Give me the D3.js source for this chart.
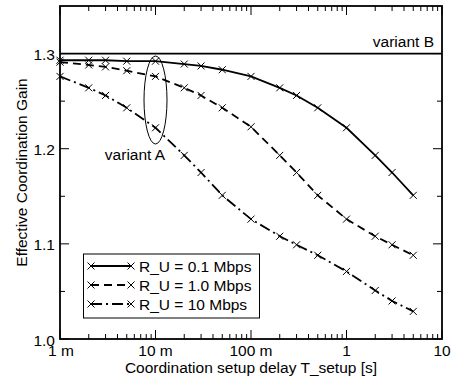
<!DOCTYPE html>
<html>
<head>
<meta charset="utf-8">
<script src="https://cdn.jsdelivr.net/npm/d3@7"></script>
<style>
  html, body { margin: 0; padding: 0; background: #fff; }
  svg { display: block; }
  text { font-family: "Liberation Sans", Arial, Helvetica, sans-serif; fill: #000; }
</style>
</head>
<body>
<svg id="chart" width="471" height="379"></svg>
<script>
// ---- data ----
const delays = [0.001, 0.002, 0.003, 0.005, 0.01, 0.02, 0.03, 0.05, 0.1, 0.2, 0.3, 0.5, 1, 2, 3, 5];
const gain01 = [1.293, 1.293, 1.293, 1.292, 1.292, 1.289, 1.287, 1.283, 1.276, 1.264, 1.256, 1.243, 1.222, 1.193, 1.175, 1.151];
const gain10 = [1.291, 1.288, 1.286, 1.282, 1.276, 1.264, 1.256, 1.243, 1.223, 1.193, 1.175, 1.151, 1.126, 1.108, 1.099, 1.088];
const gain100 = [1.276, 1.264, 1.256, 1.243, 1.222, 1.193, 1.175, 1.151, 1.126, 1.108, 1.099, 1.088, 1.071, 1.051, 1.040, 1.029];
const variantB = 1.3;
const seriesNames = ["R_U = 0.1 Mbps", "R_U = 1.0 Mbps", "R_U = 10 Mbps"];
const xTickValues = [0.001, 0.01, 0.1, 1, 10];
const xTickLabels = ["1 m", "10 m", "100 m", "1", "10"];
const yTickValues = [1.0, 1.1, 1.2, 1.3];
const yTickLabels = ["1.0", "1.1", "1.2", "1.3"];

// ---- layout ----
const L = 60, R = 442, T = 6, B = 339;
const FS = 15.5;
const svg = d3.select("#chart");
const x = d3.scaleLog().domain([0.001, 10]).range([L, R]);
const y = d3.scaleLinear().domain([1.0, 1.35]).range([B, T]);

// minor ticks
const minorX = [];
for (let e = -3; e < 1; e++) for (let m = 2; m <= 9; m++) minorX.push(m * Math.pow(10, e));
const minorY = [1.05, 1.15, 1.25];

const g = svg.append("g");

// ticks (inward on all four sides)
const tk = g.append("g").attr("stroke", "#000").attr("stroke-width", 1);
xTickValues.forEach(v => {
  tk.append("line").attr("x1", x(v)).attr("x2", x(v)).attr("y1", B).attr("y2", B - 9);
  tk.append("line").attr("x1", x(v)).attr("x2", x(v)).attr("y1", T).attr("y2", T + 9);
});
minorX.forEach(v => {
  tk.append("line").attr("x1", x(v)).attr("x2", x(v)).attr("y1", B).attr("y2", B - 5);
  tk.append("line").attr("x1", x(v)).attr("x2", x(v)).attr("y1", T).attr("y2", T + 5);
});
yTickValues.forEach(v => {
  tk.append("line").attr("y1", y(v)).attr("y2", y(v)).attr("x1", L).attr("x2", L + 9);
  tk.append("line").attr("y1", y(v)).attr("y2", y(v)).attr("x1", R).attr("x2", R - 9);
});
minorY.forEach(v => {
  tk.append("line").attr("y1", y(v)).attr("y2", y(v)).attr("x1", L).attr("x2", L + 5);
  tk.append("line").attr("y1", y(v)).attr("y2", y(v)).attr("x1", R).attr("x2", R - 5);
});

// tick labels
xTickValues.forEach((v, i) => {
  g.append("text").attr("x", x(v) + (i === 0 ? 1 : 0)).attr("y", 356).attr("text-anchor", "middle")
    .attr("font-size", FS).text(xTickLabels[i]);
});
yTickValues.forEach((v, i) => {
  g.append("text").attr("x", 55).attr("y", y(v) + (i === 0 ? 7 : 6)).attr("text-anchor", "end")
    .attr("font-size", FS).text(yTickLabels[i]);
});

// axis titles
g.append("text").attr("x", (L + R) / 2).attr("y", 373).attr("text-anchor", "middle")
  .attr("font-size", FS).text("Coordination setup delay T_setup [s]");
g.append("text").attr("transform", `translate(27,${(T + B) / 2}) rotate(-90)`)
  .attr("text-anchor", "middle").attr("font-size", FS).text("Effective Coordination Gain");

// variant B line
g.append("line").attr("x1", L).attr("x2", R).attr("y1", y(variantB)).attr("y2", y(variantB))
  .attr("stroke", "#000").attr("stroke-width", 1.8);
g.append("text").attr("x", 434).attr("y", 47).attr("text-anchor", "end")
  .attr("font-size", FS).text("variant B");

// series
const dashes = [null, "8,5", "11,4,2,4"];
const allSeries = [gain01, gain10, gain100];
const line = d3.line().x(d => x(d[0])).y(d => y(d[1]));
const ms = 3.5;
function cross(sel, cx, cy) {
  sel.append("path").attr("d", `M${cx - ms},${cy - ms}L${cx + ms},${cy + ms}M${cx - ms},${cy + ms}L${cx + ms},${cy - ms}`)
    .attr("stroke", "#000").attr("stroke-width", 1).attr("fill", "none");
}
allSeries.forEach((vals, si) => {
  const pts = delays.map((d, i) => [d, vals[i]]);
  const p = g.append("path").attr("d", line(pts)).attr("fill", "none")
    .attr("stroke", "#000").attr("stroke-width", 1.8);
  if (dashes[si]) p.attr("stroke-dasharray", dashes[si]);
  const mg = g.append("g");
  pts.forEach(pt => cross(mg, x(pt[0]), y(pt[1])));
});

// variant A ellipse + label
g.append("ellipse").attr("cx", x(0.01)).attr("cy", 100).attr("rx", 11.5).attr("ry", 44)
  .attr("fill", "none").attr("stroke", "#000").attr("stroke-width", 1);
g.append("text").attr("x", 135).attr("y", 160).attr("text-anchor", "middle")
  .attr("font-size", FS).text("variant A");

// legend
const lg = g.append("g");
lg.append("rect").attr("x", 83.5).attr("y", 254).attr("width", 176).attr("height", 64)
  .attr("fill", "#fff").attr("stroke", "#000").attr("stroke-width", 1);
const rowsY = [266, 285, 304];
seriesNames.forEach((name, i) => {
  const ly = rowsY[i];
  const l = lg.append("line").attr("x1", 91).attr("x2", 131).attr("y1", ly).attr("y2", ly)
    .attr("stroke", "#000").attr("stroke-width", 1.8);
  if (dashes[i]) l.attr("stroke-dasharray", dashes[i]);
  cross(lg, 91, ly);
  cross(lg, 131, ly);
  lg.append("text").attr("x", 139).attr("y", ly + 5.5).attr("font-size", FS).text(name);
});

// frame
g.append("rect").attr("x", L).attr("y", T).attr("width", R - L).attr("height", B - T)
  .attr("fill", "none").attr("stroke", "#000").attr("stroke-width", 1.8);
</script>
</body>
</html>
